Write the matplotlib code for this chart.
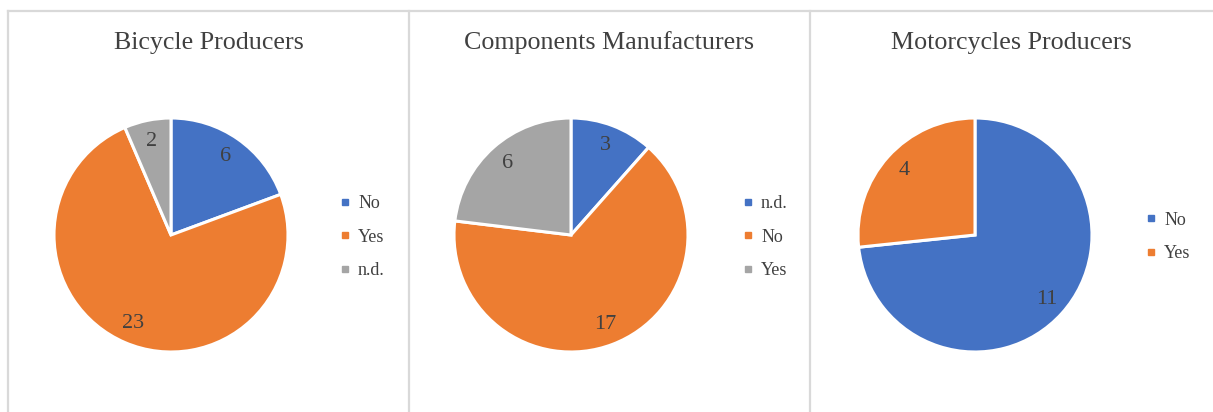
import matplotlib.pyplot as plt
from matplotlib.lines import Line2D

# chart data
titles = ['Bicycle Producers', 'Components Manufacturers', 'Motorcycles Producers']
bike_labels = ['No', 'Yes', 'n.d.']
bike_values = [6, 23, 2]
comp_labels = ['n.d.', 'No', 'Yes']
comp_values = [3, 17, 6]
moto_labels = ['No', 'Yes']
moto_values = [11, 4]

colors = ['#4472C4', '#ED7D31', '#A5A5A5']
text_col = '#404040'
serif = ['Liberation Serif', 'DejaVu Serif']

W, H = 1213, 412
fig = plt.figure(figsize=(W / 100, H / 100), dpi=100)
fig.patch.set_facecolor('white')

def px(x, y):
    # pixel coords (top-left origin) -> figure fraction
    return x / W, (H - y) / H

# panel borders
border = '#D9D9D9'
x0, y0 = px(8, 11)
x1, _ = px(W, 11)
fig.add_artist(Line2D([x0, x1], [y0, y0], color=border, lw=1.6))
for xb in [8, 409, 810]:
    xf, _ = px(xb, 0)
    fig.add_artist(Line2D([xf, xf], [0, y0], color=border, lw=1.6))

panels = [
    (bike_labels, bike_values, 171, 208.5, 340),
    (comp_labels, comp_values, 571, 609.5, 743),
    (moto_labels, moto_values, 975, 1011.5, 1146),
]
r = 117
cy = 235

for i, (labels, values, cx, tx, lx) in enumerate(panels):
    ax = fig.add_axes([(cx - r) / W, (H - cy - r) / H, 2 * r / W, 2 * r / H])
    total = sum(values)
    ax.pie(values, colors=colors[:len(values)], startangle=90, counterclock=False,
           radius=1, wedgeprops=dict(edgecolor='white', linewidth=2.2),
           autopct=lambda p, t=total: f'{round(p * t / 100):d}', pctdistance=0.82,
           textprops=dict(color=text_col, fontsize=16, family=serif))
    ax.set_xlim(-1.0, 1.0)
    ax.set_ylim(-1.0, 1.0)
    ax.set_aspect('equal')
    ax.axis('off')

    fig.text(*px(tx, 43), titles[i], ha='center', va='center',
             fontsize=18.7, color=text_col, family=serif)

    handles = [Line2D([], [], marker='s', ls='none', markersize=4,
                      color=colors[k]) for k in range(len(labels))]
    leg = fig.legend(handles, labels, loc='center left',
                     bbox_to_anchor=px(lx, 237), frameon=False,
                     handlelength=0.5, handletextpad=0.5, borderpad=0,
                     borderaxespad=0, labelspacing=0.92,
                     prop=dict(family=serif, size=13))
    for t in leg.get_texts():
        t.set_color(text_col)

fig.savefig('out.png', dpi=100, facecolor='white')
